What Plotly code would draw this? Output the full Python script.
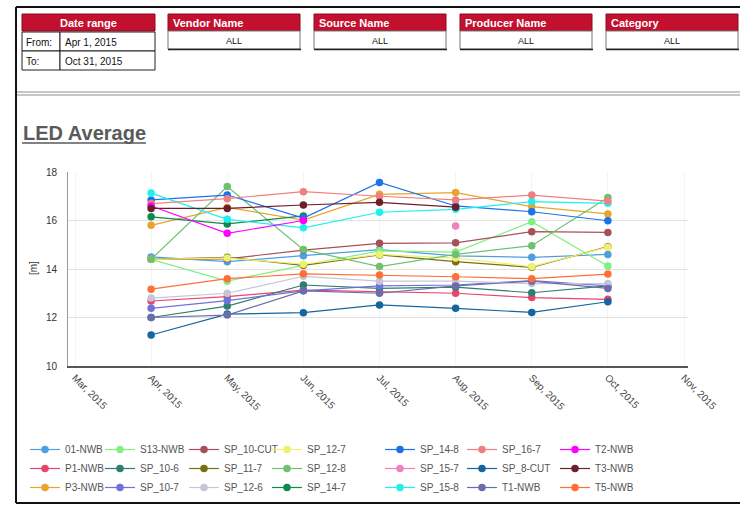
import plotly.graph_objects as go

# ---------------- data ----------------
MONTHS = ["Mar, 2015", "Apr, 2015", "May, 2015", "Jun, 2015", "Jul, 2015",
          "Aug, 2015", "Sep, 2015", "Oct, 2015", "Nov, 2015"]
DATA_MONTHS = ["Apr, 2015", "May, 2015", "Jun, 2015", "Jul, 2015",
               "Aug, 2015", "Sep, 2015", "Oct, 2015"]
Y_TICKS = [10, 12, 14, 16, 18]

S_01_NWB = [14.5, 14.3, 14.55, 14.8, 14.54, 14.48, 14.6]
S_P1_NWB = [12.68, 12.86, 13.13, 13.06, 13.0, 12.82, 12.75]
S_P3_NWB = [15.8, 16.54, 16.02, 17.08, 17.15, 16.57, 16.27]
S_S13_NWB = [14.4, 13.5, 14.15, 14.75, 14.7, 15.95, 14.12]
S_SP_10_6 = [12.0, 12.47, 13.34, 13.2, 13.25, 13.02, 13.3]
S_SP_10_7 = [12.38, 12.7, 13.1, 13.3, 13.34, 13.52, 13.3]
S_SP_10_CUT = [14.4, 14.42, 14.78, 15.06, 15.08, 15.54, 15.51]
S_SP_11_7 = [14.4, 14.48, 14.15, 14.58, 14.3, 14.07, 14.92]
S_SP_12_6 = [12.8, 13.0, 13.7, 13.5, 13.5, 13.4, 13.4]
S_SP_12_7 = [14.4, 14.45, 14.2, 14.6, 14.45, 14.1, 14.9]
S_SP_12_8 = [14.4, 17.4, 14.8, 14.1, 14.6, 14.96, 16.95]
S_SP_14_7 = [16.15, 15.86, 16.19, None, None, None, None]
S_SP_14_8 = [16.85, 17.05, 16.1, 17.57, 16.6, 16.36, 15.99]
S_SP_15_7 = [None, None, None, None, 15.77, None, None]
S_SP_15_8 = [17.13, 16.05, 15.7, 16.34, 16.46, 16.78, 16.71]
S_SP_16_7 = [16.7, 16.9, 17.19, 17.0, 16.85, 17.05, 16.8]
S_SP_8_CUT = [11.28, 12.14, 12.2, 12.52, 12.38, 12.21, 12.65]
S_T1_NWB = [12.0, 12.1, 13.1, 13.0, 13.3, 13.5, 13.2]
S_T2_NWB = [16.6, 15.47, 16.0, None, None, None, None]
S_T3_NWB = [16.5, 16.5, 16.64, 16.75, 16.55, None, None]
S_T5_NWB = [13.17, 13.6, 13.8, 13.75, 13.68, 13.6, 13.79]

SERIES_NAMES = ["01-NWB", "P1-NWB", "P3-NWB", "S13-NWB", "SP_10-6", "SP_10-7",
                "SP_10-CUT", "SP_11-7", "SP_12-6", "SP_12-7", "SP_12-8", "SP_14-7",
                "SP_14-8", "SP_15-7", "SP_15-8", "SP_16-7", "SP_8-CUT", "T1-NWB",
                "T2-NWB", "T3-NWB", "T5-NWB"]
SERIES_VALUES = [S_01_NWB, S_P1_NWB, S_P3_NWB, S_S13_NWB, S_SP_10_6, S_SP_10_7,
                 S_SP_10_CUT, S_SP_11_7, S_SP_12_6, S_SP_12_7, S_SP_12_8, S_SP_14_7,
                 S_SP_14_8, S_SP_15_7, S_SP_15_8, S_SP_16_7, S_SP_8_CUT, S_T1_NWB,
                 S_T2_NWB, S_T3_NWB, S_T5_NWB]
SERIES_COLORS = ["#4f9fe0", "#e8456a", "#e8a42c", "#80f080", "#2f7f70", "#6f72d8",
                 "#a8505a", "#7a7010", "#c8c4d8", "#f0f070", "#70c070", "#0e8a50",
                 "#1a73e8", "#f080c0", "#1ef0f0", "#f08080", "#1565a0", "#6c6cac",
                 "#ff00ff", "#6e1f2c", "#ff7038"]

FILTERS = ["Vendor Name", "Source Name", "Producer Name", "Category"]

# ---------------- layout helpers ----------------
W, H = 740, 507
L, R, T, B = 68, 688, 172, 366
FONT = "Liberation Sans, Arial, sans-serif"


def px(x):
    return (x - L) / (R - L)


def py(y):
    return (B - y) / (B - T)


# x range so that category 0 (Mar) sits at 75px and 8 (Nov) at 684px
unit = (684 - 75) / 8.0
x_lo = (L - 75) / unit
x_hi = (R - 75) / unit

fig = go.Figure()

legend_cols = [45, 120, 204, 287, 400, 482, 575]
for i, (name, vals, col) in enumerate(zip(SERIES_NAMES, SERIES_VALUES, SERIES_COLORS)):
    li = i // 3
    fig.add_trace(go.Scatter(
        x=DATA_MONTHS, y=vals, name=name, mode="lines+markers",
        line=dict(color=col, width=1.2),
        marker=dict(color=col, size=7.5),
        legend="legend" if li == 0 else f"legend{li + 1}",
    ))

shapes = []
annos = []

# outer frame
shapes.append(dict(type="line", xref="paper", yref="paper", x0=px(16), x1=px(16),
                   y0=py(7), y1=py(503), line=dict(color="#111", width=2)))
shapes.append(dict(type="line", xref="paper", yref="paper", x0=px(16), x1=px(740),
                   y0=py(7), y1=py(7), line=dict(color="#111", width=2)))
shapes.append(dict(type="line", xref="paper", yref="paper", x0=px(16), x1=px(740),
                   y0=py(503), y1=py(503), line=dict(color="#111", width=2)))

RED = "#c3102e"
# Date range box
shapes.append(dict(type="rect", xref="paper", yref="paper", x0=px(22), x1=px(155),
                   y0=py(31), y1=py(14), fillcolor=RED, line=dict(color="#8a0a1e", width=1)))
for (y0, y1) in [(32, 51), (51, 70)]:
    shapes.append(dict(type="rect", xref="paper", yref="paper", x0=px(22), x1=px(60),
                       y0=py(y1), y1=py(y0), fillcolor="white", line=dict(color="#222", width=1)))
    shapes.append(dict(type="rect", xref="paper", yref="paper", x0=px(60), x1=px(155),
                       y0=py(y1), y1=py(y0), fillcolor="white", line=dict(color="#222", width=1)))
annos.append(dict(x=px(88.5), y=py(23), xref="paper", yref="paper", text="<b>Date range</b>",
                  showarrow=False, font=dict(color="white", size=11, family=FONT),
                  xanchor="center", yanchor="middle"))
annos.append(dict(x=px(24), y=py(42), xref="paper", yref="paper", text="From:",
                  showarrow=False, font=dict(color="#111", size=10, family=FONT),
                  xanchor="left", yanchor="middle"))
annos.append(dict(x=px(63), y=py(42), xref="paper", yref="paper", text="Apr 1, 2015",
                  showarrow=False, font=dict(color="#111", size=10, family=FONT),
                  xanchor="left", yanchor="middle"))
annos.append(dict(x=px(24), y=py(61), xref="paper", yref="paper", text="To:",
                  showarrow=False, font=dict(color="#111", size=10, family=FONT),
                  xanchor="left", yanchor="middle"))
annos.append(dict(x=px(63), y=py(61), xref="paper", yref="paper", text="Oct 31, 2015",
                  showarrow=False, font=dict(color="#111", size=10, family=FONT),
                  xanchor="left", yanchor="middle"))

for k, label in enumerate(FILTERS):
    x0 = 168 + k * 146
    x1 = x0 + 132
    shapes.append(dict(type="rect", xref="paper", yref="paper", x0=px(x0), x1=px(x1),
                       y0=py(31), y1=py(14), fillcolor=RED, line=dict(color="#8a0a1e", width=1)))
    shapes.append(dict(type="rect", xref="paper", yref="paper", x0=px(x0), x1=px(x1),
                       y0=py(49), y1=py(31), fillcolor="white", line=dict(color="#777", width=1)))
    shapes.append(dict(type="line", xref="paper", yref="paper", x0=px(x0), x1=px(x1 + 1),
                       y0=py(49.5), y1=py(49.5), line=dict(color="#222", width=1.5)))
    annos.append(dict(x=px(x0 + 3), y=py(23), xref="paper", yref="paper", text=f"<b>{label}</b>",
                      showarrow=False, font=dict(color="white", size=11, family=FONT),
                      xanchor="left", yanchor="middle"))
    annos.append(dict(x=px((x0 + x1) / 2), y=py(40.5), xref="paper", yref="paper", text="ALL",
                      showarrow=False, font=dict(color="#111", size=9, family=FONT),
                      xanchor="center", yanchor="middle"))

# separator
for yy in (92, 95):
    shapes.append(dict(type="line", xref="paper", yref="paper", x0=px(17), x1=px(740),
                       y0=py(yy), y1=py(yy), line=dict(color="#b5b5b5", width=1.5)))

# title
annos.append(dict(x=px(21), y=py(133), xref="paper", yref="paper", text="<b>LED Average</b>",
                  showarrow=False, font=dict(color="#5a5a5a", size=20, family=FONT),
                  xanchor="left", yanchor="middle"))
shapes.append(dict(type="line", xref="paper", yref="paper", x0=px(22), x1=px(146),
                   y0=py(143), y1=py(143), line=dict(color="#5a5a5a", width=1.5)))

# y-axis title
annos.append(dict(x=px(33), y=py(268), xref="paper", yref="paper", text="[m]",
                  showarrow=False, textangle=-90, font=dict(color="#333", size=10, family=FONT),
                  xanchor="center", yanchor="middle"))

layout_legends = {}
for li, cx in enumerate(legend_cols):
    key = "legend" if li == 0 else f"legend{li + 1}"
    layout_legends[key] = dict(
        x=px(cx - 20), y=py(435), xanchor="left", yanchor="top",
        orientation="v", bgcolor="rgba(0,0,0,0)", tracegroupgap=0,
        font=dict(size=10, color="#555", family=FONT), itemwidth=30,
    )

fig.update_layout(
    width=W, height=H,
    margin=dict(l=L, r=W - R, t=T, b=H - B, autoexpand=False),
    paper_bgcolor="white", plot_bgcolor="white",
    font=dict(family=FONT, size=10, color="#444"),
    showlegend=True,
    shapes=shapes, annotations=annos,
    xaxis=dict(type="category", categoryorder="array", categoryarray=MONTHS,
               tickmode="array", tickvals=MONTHS, ticktext=MONTHS,
               range=[x_lo, x_hi], tickangle=45, showgrid=True, gridcolor="#f4f4f4",
               showline=True, linecolor="#555", linewidth=2, ticks="",
               tickfont=dict(size=10, color="#444", family=FONT), zeroline=False),
    yaxis=dict(range=[10, 18], tickvals=Y_TICKS, showgrid=True, gridcolor="#e2e2e2",
               showline=True, linecolor="#999", linewidth=1, ticks="", zeroline=False,
               ticklabelstandoff=8, tickfont=dict(size=10, color="#333", family=FONT)),
    **layout_legends,
)

fig.write_html("out.html", config={"displayModeBar": False},
               post_script="document.body.style.margin='0px';document.body.style.overflow='hidden';")
